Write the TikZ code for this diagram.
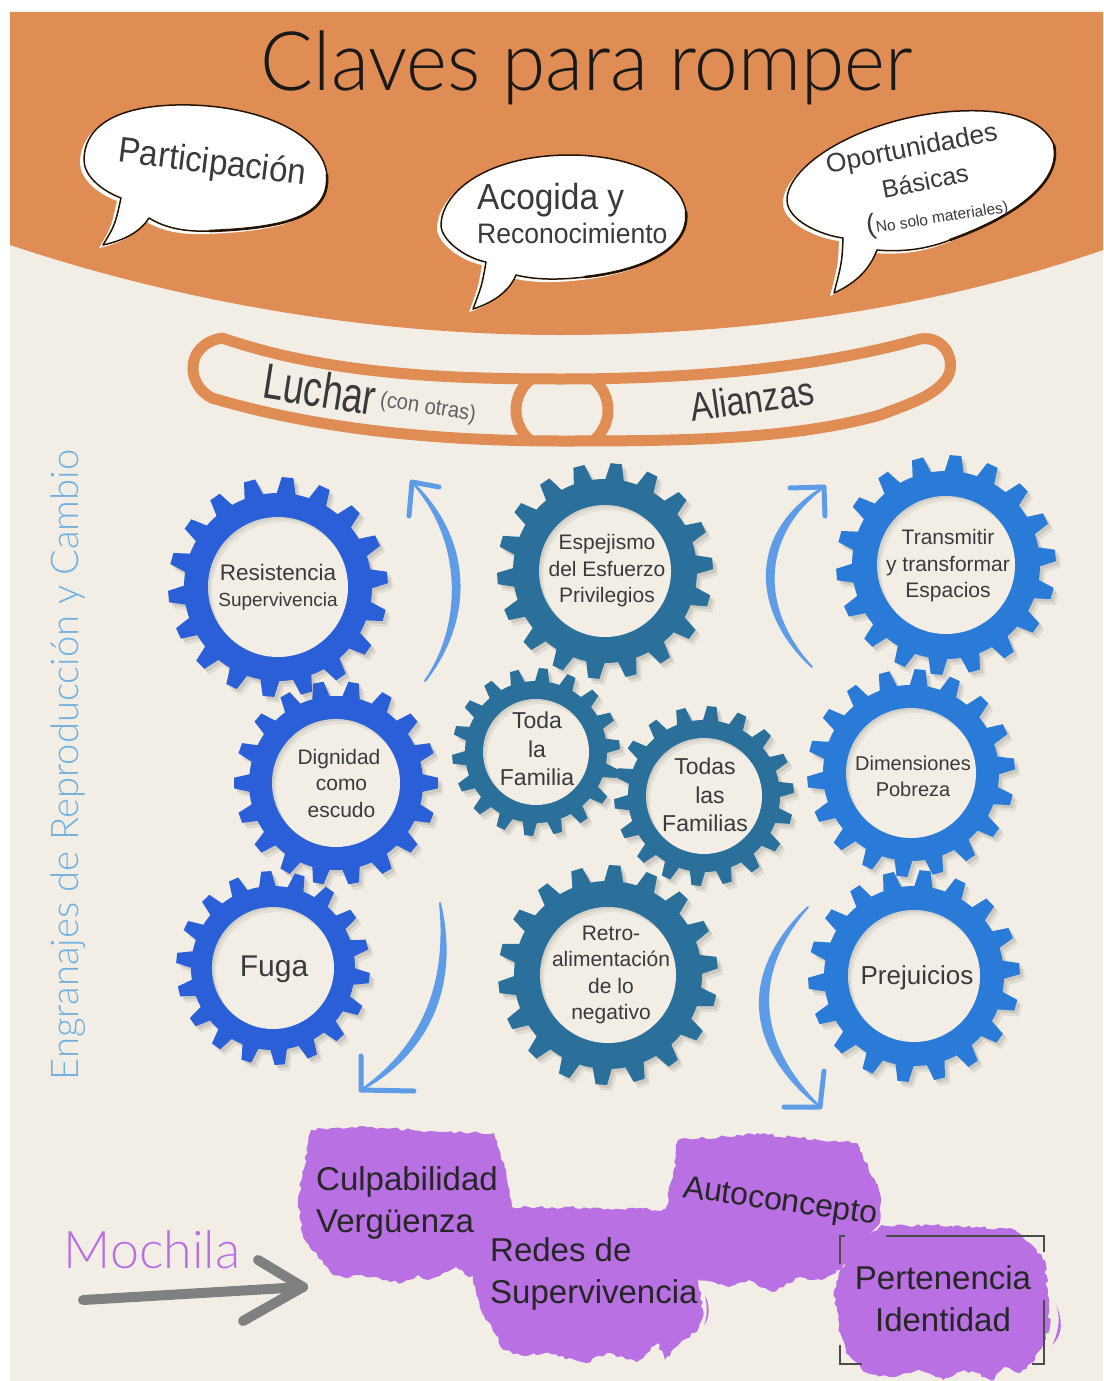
\documentclass[tikz,border=0pt]{standalone}
\usepackage{fontspec}
\setmainfont{Liberation Sans}
\newfontfamily\handf{Lato Light}
\usetikzlibrary{decorations.pathmorphing,calc}
\definecolor{pageBg}{HTML}{F2EEE6}
\definecolor{hdr}{HTML}{E08C55}
\definecolor{gearA}{HTML}{2A5FD8}
\definecolor{gearB}{HTML}{2B6F9B}
\definecolor{gearC}{HTML}{2A7BD8}
\definecolor{arrowBlue}{HTML}{5E9CE8}
\definecolor{purp}{HTML}{B870E2}
\definecolor{ink}{HTML}{3A3A3A}
\definecolor{titleBlue}{HTML}{6FB0E0}
\tikzset{
  gearlabel/.style={align=center,text=ink,inner sep=0pt},
  bubbletext/.style={align=center,text=ink,inner sep=0pt},
  blobtext/.style={inner sep=0pt,text=black!85},
  blob/.style={fill=purp,decorate,decoration={random steps,segment length=4pt,amplitude=1.6pt}},
  sketcharrow/.style={fill=arrowBlue,draw=arrowBlue,line width=2pt,line join=round},
  barb/.style={draw=arrowBlue,line width=5pt,line cap=round,line join=round},
  bubbleline/.style={draw=black!85!orange,line width=1.5pt,fill=white,line join=round},
  heavyline/.style={draw=black!85!orange,line width=2.6pt,line cap=round},
  corner/.style={draw=black!70,line width=1.2pt},
  band/.style={draw=hdr,line width=11pt,line join=round},
}
\newcommand{\fs}[2]{\fontsize{#1}{#2}\selectfont}
\newcommand{\gearpath}[6]{%
  \pgfmathsetmacro{\gst}{360/#3}
  \fill[#5] (#6) circle (#2)
    \foreach \gi [evaluate=\gi as \ga using #4+\gi*\gst] in {1,...,#3} {
      ($(#6)+({\ga-.30*\gst}:#2-1)$) -- ($(#6)+({\ga-.15*\gst}:#1)$) -- ($(#6)+({\ga+.15*\gst}:#1)$) -- ($(#6)+({\ga+.30*\gst}:#2-1)$) -- cycle
    };
}
\newcommand{\gear}[9]{%
  \gearpath{#4}{#5}{#7}{#8}{black,opacity=.07}{#2+5,#3+6}
  \gearpath{#4}{#5}{#7}{#8}{black,opacity=.09}{#2+3,#3+3}
  \gearpath{#4}{#5}{#7}{#8}{#9}{#2,#3}
  \fill[pageBg] (#2,#3) circle (#6);
  \begin{scope}
    \clip (#2,#3) circle (#6);
    \fill[black,opacity=.06,even odd rule] (#2,#3) circle (#6+30) (#2+4,#3+5) circle (#6);
    \fill[black,opacity=.07,even odd rule] (#2,#3) circle (#6+30) (#2+2,#3+2) circle (#6);
  \end{scope}
  \coordinate (#1) at (#2,#3);
}
\def\bubA{(121,198) .. controls (115,225) .. (103,245) .. controls (125,240) and (140,232) .. (149,218) .. controls (165,228) and (185,232) .. (210,231) .. controls (290,228) and (330,215) .. (327,175) .. controls (322,130) and (250,103) .. (175,105) .. controls (110,107) and (84,130) .. (84,160) .. controls (84,175) and (100,190) .. (121,198) -- cycle}
\def\bubB{(486,262) .. controls (482,285) .. (473,309) .. controls (495,302) and (510,290) .. (516,275) .. controls (535,280) and (560,280) .. (585,277) .. controls (650,270) and (690,245) .. (686,212) .. controls (680,175) and (625,155) .. (570,155) .. controls (490,155) and (442,190) .. (441,225) .. controls (441,240) and (465,258) .. (486,262) -- cycle}
\def\bubC{(843,238) .. controls (842,262) .. (834,293) .. controls (858,282) and (870,268) .. (877,250) .. controls (900,252) and (925,250) .. (950,240) .. controls (1020,215) and (1062,180) .. (1054,145) .. controls (1040,112) and (990,108) .. (945,112) .. controls (860,120) and (787,165) .. (787,200) .. controls (787,220) and (820,235) .. (843,238) -- cycle}
\begin{document}
\begin{tikzpicture}[x=1pt,y=-1pt]
\useasboundingbox (0,0) rectangle (1103,1381);
\fill[white] (0,0) rectangle (1103,1381);
\fill[pageBg] (10,12) rectangle (1103,1381);
% header
\fill[hdr] (10,12) -- (1103,12) -- (1103,250) .. controls (930,310) and (740,335) .. (560,335) .. controls (380,335) and (190,305) .. (10,245) -- cycle;
\node[inner sep=0pt,text=black!90] (title) at (587,68) {\handf\fs{76}{80}\scalebox{1.03}[1.08]{Claves para romper}};
% bubbles
\begin{scope}[shift={(-4,3)}]
\fill[white] \bubA; \fill[white] \bubB; \fill[white] \bubC;
\end{scope}
\path[bubbleline] \bubA;
\path[bubbleline] \bubB;
\path[bubbleline] \bubC;
\draw[heavyline] (210,231) .. controls (290,228) and (330,215) .. (327,175);
\draw[heavyline] (585,277) .. controls (650,270) and (690,245) .. (686,212);
\draw[heavyline] (950,240) .. controls (1020,215) and (1062,180) .. (1054,145);
\node[bubbletext,rotate=-7] (b1) at (212,164) {\fs{34}{38}\scalebox{.97}[1.05]{Participación}};
\node[bubbletext,anchor=west] (b2a) at (477,200) {\fs{34.5}{38}\scalebox{.97}[1.05]{Acogida y}};
\node[bubbletext,anchor=west] (b2b) at (477,233) {\fs{26.8}{30}\scalebox{.99}[1.05]{Reconocimiento}};
\node[bubbletext,rotate=11] (b3a) at (912,150) {\fs{26.5}{30}Oportunidades};
\node[bubbletext,rotate=11] (b3b) at (925,181) {\fs{25}{30}Básicas};
\node[bubbletext,rotate=9] (b3c) at (937,216) {\fs{28}{30}(\fs{15.5}{18}No solo materiales)};
% band
\draw[band] (222,338) .. controls (330,375) and (450,379) .. (562,379) .. controls (680,379) and (810,370) .. (920,339) .. controls (945,335) and (957,362) .. (947,378) .. controls (935,395) and (915,402) .. (880,415) .. controls (790,440) and (680,441) .. (562,441) .. controls (440,441) and (320,430) .. (212,398) .. controls (186,385) and (184,345) .. (222,338) -- cycle;
\draw[band] (531,379) .. controls (511,395) and (511,425) .. (531,441);
\draw[band] (593,379) .. controls (613,395) and (613,425) .. (593,441);
\node[inner sep=0pt,text=ink,rotate=-9] (luchar) at (320,389) {\fs{50}{54}\scalebox{.74}[1]{Luchar}};
\node[inner sep=0pt,text=ink!80,rotate=-9] (conotras) at (428,408) {\fs{22}{26}\scalebox{.92}[1]{(con otras)}};
\node[inner sep=0pt,text=ink,rotate=8] (alianzas) at (752,399) {\fs{40}{44}\scalebox{.82}[1]{Alianzas}};
% side title
\node[inner sep=0pt,rotate=90,text=titleBlue] (side) at (68,765) {\handf\fs{38.2}{46}Engranajes de Reproducción y Cambio};
% arrows
\coordinate (a1s) at (425,681); \coordinate (a1e) at (412,482);
\fill[sketcharrow] (a1s) .. controls (473,620) and (473,540) .. (a1e) .. controls (464,540) and (464,625) .. (a1s) -- cycle;
\draw[barb] (409,516) -- (a1e) -- (439,487);
\coordinate (a2s) at (812,667); \coordinate (a2e) at (824,487);
\fill[sketcharrow] (a2s) .. controls (750,610) and (750,530) .. (a2e) .. controls (759,535) and (759,610) .. (a2s) -- cycle;
\draw[barb] (790,488) -- (a2e) -- (825,516);
\coordinate (a3s) at (440,903); \coordinate (a3e) at (361,1090);
\fill[sketcharrow] (a3s) .. controls (460,990) and (425,1055) .. (a3e) .. controls (418,1050) and (449,990) .. (a3s) -- cycle;
\draw[barb] (361,1056) -- (a3e) -- (414,1091);
\coordinate (a4s) at (808,907); \coordinate (a4e) at (820,1107);
\fill[sketcharrow] (a4s) .. controls (742,970) and (742,1045) .. (a4e) .. controls (753,1040) and (753,970) .. (a4s) -- cycle;
\draw[barb] (824,1071) -- (a4e) -- (784,1107);
% gears
\gear{g1}{278}{587}{110}{94}{70}{18}{-5}{gearA}
\gear{g2}{336}{783}{102}{87}{64}{18}{0}{gearA}
\gear{g3}{273}{968}{97}{82}{61}{18}{6}{gearA}
\gear{g4}{605}{571}{108}{92}{66}{18}{-4}{gearB}
\gear{g5}{536}{752}{84}{71}{53}{18}{-5}{gearB}
\gear{g7}{608}{975}{110}{94}{68}{18}{-6.5}{gearB}
\gear{g6}{704}{796}{90}{76}{58}{18}{-5}{gearB}
\gear{g8}{946}{565}{110}{94}{69}{18}{-5}{gearC}
\gear{g9}{911}{773}{104}{88}{65}{18}{-5}{gearC}
\gear{g10}{914}{976}{106}{90}{66}{18}{-4}{gearC}
\node[gearlabel,font=\fs{22.5}{26}] (t1) at (278,587) {Resistencia\\{\fs{19}{22}Supervivencia}};
\node[gearlabel,font=\fs{21}{26.5}] (t2) at (339,783) {Dignidad\\\hspace{5pt}como\\\hspace{5pt}escudo};
\node[gearlabel,font=\fs{30}{36}] (t3) at (274,969) {Fuga};
\node[gearlabel,font=\fs{21}{26.5}] (t4) at (607,571) {Espejismo\\del Esfuerzo\\Privilegios};
\node[gearlabel,font=\fs{23}{28.5}] (t5) at (537,749) {Toda\\la\\Familia};
\node[gearlabel,font=\fs{23}{28.5}] (t6) at (705,795) {Todas\\\hspace{10pt}las\\Familias};
\node[gearlabel,font=\fs{21}{26.5}] (t7) at (611,975) {Retro-\\alimentación\\de lo\\negativo};
\node[gearlabel,font=\fs{21}{26.5}] (t8) at (948,566) {Transmitir\\y transformar\\Espacios};
\node[gearlabel,font=\fs{20}{26}] (t9) at (913,776) {Dimensiones\\Pobreza};
\node[gearlabel,font=\fs{26}{30}] (t10) at (917,978) {Prejuicios};
% Mochila
\node[inner sep=0pt,text=purp] (moch) at (152,1250) {\handf\fs{52}{58}Mochila};
\coordinate (g0) at (83,1300); \coordinate (g1e) at (303,1287);
\draw[draw=black!50,line width=10pt,line cap=round] (g0) -- (g1e);
\draw[draw=black!50,line width=10pt,line cap=round,line join=round] (258,1260) -- (g1e) -- (243,1321);
% blobs
\fill[blob] (311,1130) -- (360,1126) -- (440,1132) -- (494,1133) -- (506,1170) -- (512,1207) -- (500,1260) -- (469,1277) -- (456,1267) -- (443,1273) -- (428,1280) -- (418,1275) -- (402,1283) -- (382,1280) -- (362,1275) -- (346,1278) -- (331,1273) -- (303,1237) -- (298,1200) -- cycle;
\fill[blob] (505,1207) -- (600,1208) -- (668,1210) -- (698,1270) -- (703,1317) -- (698,1330) -- (683,1340) -- (665,1360) -- (658,1343) -- (637,1362) -- (607,1353) -- (586,1363) -- (545,1353) -- (520,1355) -- (504,1350) -- (481,1310) -- (471,1273) -- (480,1230) -- cycle;
\fill[blob] (678,1140) -- (760,1134) -- (857,1143) -- (880,1193) -- (880,1223) -- (836,1273) -- (821,1280) -- (800,1277) -- (772,1292) -- (749,1280) -- (729,1287) -- (698,1280) -- (665,1210) -- (673,1177) -- cycle;
\fill[blob] (882,1225) -- (960,1226) -- (1015,1230) -- (1045,1260) -- (1050,1327) -- (1035,1360) -- (1020,1373) -- (1004,1367) -- (994,1380) -- (964,1370) -- (943,1380) -- (918,1370) -- (892,1377) -- (867,1373) -- (846,1353) -- (839,1327) -- (834,1290) -- (839,1273) -- (860,1240) -- cycle;
\fill[purp] (1052,1345) .. controls (1060,1330) and (1060,1315) .. (1056,1305) .. controls (1063,1320) and (1063,1335) .. (1052,1345) -- cycle;
\fill[purp] (704,1325) .. controls (708,1315) and (707,1305) .. (705,1295) .. controls (710,1305) and (710,1318) .. (704,1325) -- cycle;
\draw[corner] (886,1236) -- (1044,1236) -- (1044,1252);
\draw[corner] (845,1236) -- (840,1236) -- (840,1264);
\draw[corner] (840,1345) -- (840,1364) -- (862,1364);
\draw[corner] (1044,1300) -- (1044,1364) -- (1032,1364);
\node[blobtext,anchor=west,align=left,font=\fs{33}{42}] (p1) at (316,1203) {Culpabilidad\\Vergüenza};
\node[blobtext,anchor=west,align=left,font=\fs{33}{42}] (p2) at (490,1274) {Redes de\\Supervivencia};
\node[blobtext,rotate=-8,font=\fs{32}{38}] (p3) at (780,1203) {Autoconcepto};
\node[blobtext,align=center,font=\fs{33}{42}] (p4) at (943,1299) {Pertenencia\\Identidad};
\end{tikzpicture}
\end{document}
